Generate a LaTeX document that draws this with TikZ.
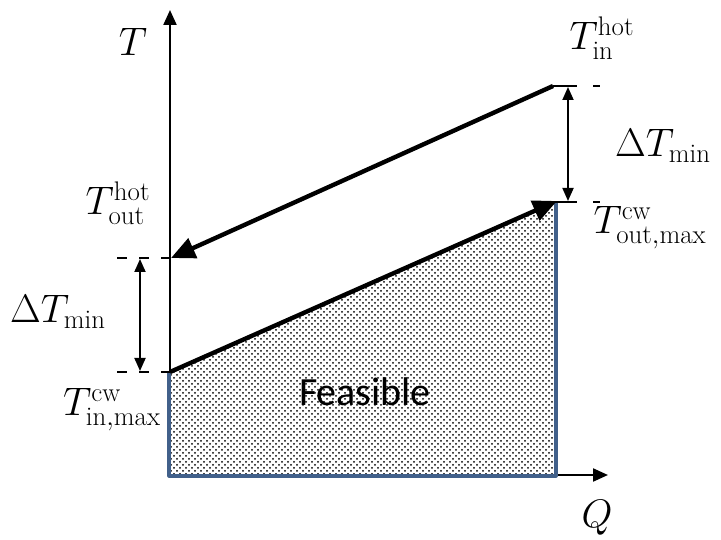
\documentclass[tikz,border=0pt]{standalone}
\usepackage{fontspec}
\usepackage{graphicx}
\newfontfamily\calib{Carlito}
\usetikzlibrary{arrows.meta,patterns}
\definecolor{edgeblue}{HTML}{41608A}
\newcommand{\mylbl}[1]{\scalebox{1.6}{\fontsize{24}{28}\selectfont$#1$}}
\pgfdeclarepatternformonly{feasdots}{\pgfqpoint{-1pt}{-1pt}}{\pgfqpoint{7pt}{7pt}}{\pgfqpoint{6pt}{6pt}}{%
  \pgfpathcircle{\pgfqpoint{0pt}{0pt}}{1pt}%
  \pgfpathcircle{\pgfqpoint{3pt}{3pt}}{1pt}%
  \pgfusepath{fill}}
\tikzset{
  axis/.style={line width=2.2pt,-{Triangle[length=15pt,width=13pt]}},
  stream/.style={line width=4.4pt,-{Triangle[length=24pt,width=21pt]}},
  gap/.style={line width=1.8pt,{Triangle[length=13pt,width=11pt]}-{Triangle[length=13pt,width=11pt]}},
  dashes/.style={line width=2pt,dash pattern=on 10pt off 12pt},
  lbl/.style={inner sep=0pt}
}
\begin{document}
\begin{tikzpicture}[x=1pt,y=-1pt]
\useasboundingbox (0,0) rectangle (721,540);
% coordinates
\coordinate (O) at (170,475);
\coordinate (Tt) at (170,10);
\coordinate (Qt) at (608,475);
\coordinate (cin) at (170,372);
\coordinate (cout) at (557,201);
\coordinate (hin) at (553,86);
\coordinate (hout) at (171,258);
\coordinate (br) at (556,476);
% feasible region
\fill[pattern=feasdots] (O) -- (cin) -- (cout) -- (br) -- cycle;
% axes
\draw[axis] (O) -- (Tt);
\draw[axis] (O) -- (Qt);
% blue outline
\draw[edgeblue,line width=3.2pt,line join=round] (169,372) -- (169,476) -- (556,476) -- (556,202);
% dashed ticks
\coordinate (d1a) at (553,86); \coordinate (d1b) at (600,86);
\coordinate (d2a) at (553,202); \coordinate (d2b) at (600,202);
\coordinate (d3a) at (117,258); \coordinate (d3b) at (170,258);
\coordinate (d4a) at (117,372); \coordinate (d4b) at (170,372);
\draw[line width=2pt,dash pattern=on 24pt off 16pt] (d1a) -- (d1b);
\draw[line width=2pt,dash pattern=on 24pt off 16pt] (d2a) -- (d2b);
\draw[dashes] (d3a) -- (d3b);
\draw[dashes] (d4a) -- (d4b);
% streams
\draw[stream] (hin) -- (hout);
\draw[stream] (cin) -- (cout);
% delta arrows
\coordinate (g1a) at (568,87); \coordinate (g1b) at (568,201);
\coordinate (g2a) at (140,259); \coordinate (g2b) at (140,371);
\draw[gap] (g1a) -- (g1b);
\draw[gap] (g2a) -- (g2b);
% labels
\node[lbl] (lT) at (133,42) {\mylbl{T}};
\node[lbl] (lQ) at (597,518) {\mylbl{Q}};
\node[lbl] (lhin) at (602,38) {\mylbl{T_{\mathrm{in}}^{\mathrm{hot}}}};
\node[lbl] (ldr) at (663,146) {\mylbl{\Delta T_{\min}}};
\node[lbl] (lcout) at (650,228) {\mylbl{T_{\mathrm{out,max}}^{\mathrm{cw}}}};
\node[lbl] (lhout) at (118,203) {\mylbl{T_{\mathrm{out}}^{\mathrm{hot}}}};
\node[lbl] (ldl) at (58,312) {\mylbl{\Delta T_{\min}}};
\node[lbl] (lcin) at (112,410) {\mylbl{T_{\mathrm{in,max}}^{\mathrm{cw}}}};
\node[inner sep=0pt,font=\calib\fontsize{40}{46}\selectfont] (lf) at (365,392) {Feasible};
\end{tikzpicture}
\end{document}
